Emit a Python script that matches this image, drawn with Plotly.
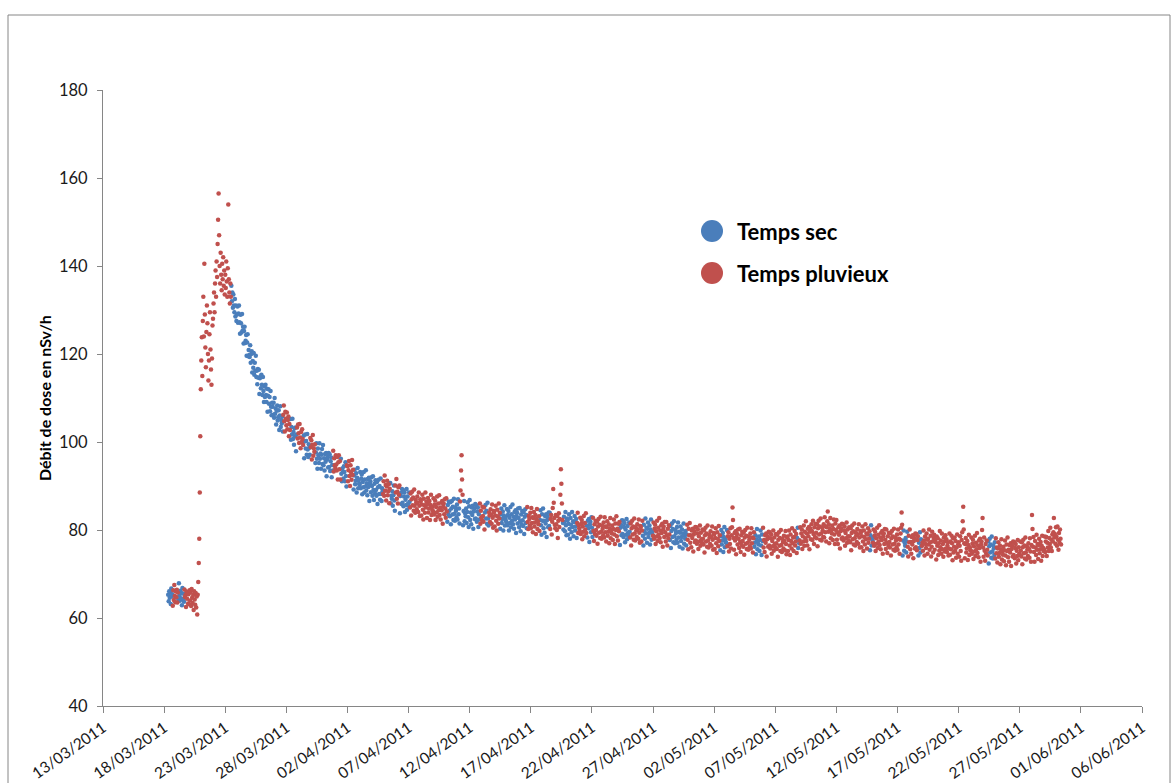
import pandas as pd
import plotly.graph_objects as go

# ---------------- data (hourly readings, nSv/h) ----------------
j18_03 = [65.3, 63.8, 66.1, 64.6, 65.9, 63.2, 66.7, 64.9, 65.4, 62.8, 66.3, 64.1, 67.5, 65.0, 63.6, 66.0]
j19_03 = [64.7, 66.4, 63.5, 65.8, 64.2, 67.9, 65.1, 63.9, 66.2, 64.5, 65.7, 62.9, 66.8, 64.3, 65.5, 63.7, 66.5, 64.8, 65.2, 62.5, 66.0, 64.4, 65.6, 63.3]
j20_03 = [65.4, 63.1, 66.3, 64.0, 65.9, 62.7, 66.6, 64.6, 63.4, 65.2, 61.8, 66.1, 64.2, 63.0, 65.7, 62.4, 64.9, 60.8, 65.3, 68.2, 72.5, 78.0, 88.5, 101.3]
j21_03 = [112.0, 118.5, 123.8, 115.0, 127.5, 133.0, 124.0, 140.5, 129.0, 121.5, 117.0, 125.0, 131.0, 127.0, 120.0, 114.0, 118.5, 124.5, 129.5, 121.0, 116.5, 113.0, 119.0, 126.5]
j22_03 = [128.0, 131.5, 134.0, 129.5, 136.0, 139.0, 133.0, 141.0, 137.5, 145.0, 150.5, 156.5, 147.0, 140.0, 136.0, 143.0, 138.0, 134.5, 140.5, 137.0, 142.0, 135.5, 139.0, 133.5]
j23_03 = [138.0, 135.0, 141.0, 136.5, 133.0, 139.5, 154.0, 137.0, 134.0, 131.5, 136.0, 133.0, 135.5, 132.0, 134.0, 130.5, 133.5, 131.0, 129.5, 132.5, 128.5, 131.0, 127.5, 129.0]
j24_03 = [130.8, 127.1, 129.2, 131.0, 127.2, 124.6, 128.9, 127.0, 124.9, 129.1, 125.3, 126.2, 122.4, 125.2, 126.2, 122.5, 123.0, 124.3, 119.6, 122.6, 124.5, 119.5, 120.9, 119.8]
j25_03 = [119.3, 122.0, 118.0, 120.0, 120.6, 115.8, 118.4, 116.9, 120.2, 115.3, 118.0, 116.2, 119.6, 114.8, 116.2, 113.1, 116.6, 114.6, 116.4, 110.9, 114.5, 114.9, 112.2, 115.3]
j26_03 = [113.0, 110.7, 114.8, 111.6, 109.1, 112.6, 110.2, 113.0, 110.7, 109.1, 112.1, 106.9, 110.5, 112.0, 108.7, 110.2, 107.0, 111.6, 108.0, 106.1, 108.9, 108.0, 106.2, 108.9]
j27_03 = [105.5, 110.0, 106.4, 107.6, 104.0, 107.1, 108.3, 104.9, 105.6, 107.2, 102.7, 106.0, 108.1, 103.4, 105.0, 104.2, 105.8, 102.4, 106.2, 108.3, 104.7, 102.4, 106.9, 105.3]
j28_03 = [103.8, 106.7, 102.9, 105.0, 105.8, 101.3, 104.1, 102.7, 105.2, 100.5, 103.4, 101.7, 105.3, 100.7, 102.3, 99.4, 103.1, 101.3, 103.3, 97.9, 101.7, 103.3, 100.8, 104.0]
j29_03 = [102.0, 99.8, 104.1, 101.0, 98.6, 102.3, 100.0, 102.9, 100.7, 99.3, 101.4, 96.3, 100.1, 101.7, 98.5, 100.2, 97.1, 101.8, 98.3, 96.6, 99.5, 98.7, 97.1, 100.9]
j30_03 = [98.8, 100.4, 96.0, 99.4, 101.6, 96.9, 98.6, 97.8, 99.5, 95.2, 97.6, 99.7, 96.2, 93.9, 98.5, 97.0, 95.2, 99.7, 96.2, 97.4, 93.9, 97.1, 98.4, 95.0]
j31_03 = [99.3, 94.7, 96.3, 93.5, 97.3, 95.5, 97.5, 92.2, 96.0, 96.6, 94.2, 97.5, 94.3, 97.2, 93.4, 95.6, 96.5, 92.0, 94.8, 93.5, 98.0, 93.3, 96.3, 94.7]
j01_04 = [94.1, 97.0, 94.9, 93.5, 96.6, 91.5, 95.4, 97.0, 93.8, 95.6, 91.5, 96.2, 92.8, 91.1, 94.0, 93.2, 91.7, 94.5, 93.2, 91.1, 95.4, 92.3, 89.9, 94.7]
j02_04 = [94.5, 91.1, 93.6, 95.7, 92.3, 90.0, 94.7, 93.1, 91.4, 95.9, 92.5, 93.7, 89.2, 92.4, 93.7, 90.4, 91.2, 92.9, 88.5, 91.9, 94.1, 89.5, 91.2, 90.5]
j03_04 = [90.3, 93.2, 89.5, 91.7, 92.6, 88.1, 90.9, 89.7, 93.2, 88.5, 91.5, 89.9, 93.6, 89.0, 90.6, 87.9, 91.6, 89.8, 91.9, 86.6, 90.5, 91.1, 88.6, 92.0]
j04_04 = [90.0, 87.8, 92.2, 89.1, 86.8, 90.5, 88.3, 91.3, 89.1, 87.8, 90.9, 85.9, 89.7, 91.4, 88.2, 90.0, 86.9, 91.7, 88.2, 86.6, 89.5, 88.8, 88.2, 91.1]
j05_04 = [87.8, 92.4, 88.9, 90.2, 86.7, 89.9, 91.2, 87.9, 88.8, 90.4, 86.1, 89.4, 90.7, 86.1, 87.8, 87.1, 88.8, 85.5, 87.9, 90.1, 86.7, 84.4, 90.1, 88.5]
j06_04 = [91.6, 87.1, 88.7, 86.0, 89.7, 88.0, 90.1, 83.8, 87.7, 88.4, 85.9, 89.3, 86.2, 89.1, 85.4, 87.6, 88.5, 84.1, 86.9, 85.7, 89.3, 84.6, 87.6, 86.0]
j07_04 = [85.5, 88.5, 86.4, 85.1, 88.3, 83.3, 87.0, 88.7, 85.6, 87.4, 84.4, 89.2, 85.5, 83.9, 86.9, 86.2, 84.7, 87.6, 86.2, 84.1, 88.5, 85.5, 83.2, 87.0]
j08_04 = [86.6, 83.3, 85.8, 88.0, 84.6, 82.4, 87.1, 85.6, 83.9, 88.5, 85.1, 86.4, 82.7, 85.9, 87.3, 84.0, 84.9, 86.6, 82.3, 85.7, 88.0, 83.4, 85.2, 84.5]
j09_04 = [84.2, 87.2, 83.5, 85.8, 86.7, 82.3, 85.2, 84.0, 87.6, 83.0, 86.0, 84.5, 87.9, 83.4, 85.1, 82.4, 86.2, 84.5, 86.6, 81.4, 85.3, 86.0, 83.6, 87.0]
j10_04 = [84.9, 82.8, 87.2, 84.2, 81.9, 85.7, 83.5, 86.5, 84.4, 83.1, 86.3, 81.3, 84.9, 86.6, 83.5, 85.3, 82.3, 87.1, 83.7, 82.1, 85.1, 84.4, 82.9, 85.8]
j11_04 = [82.4, 87.0, 83.6, 84.9, 81.5, 86.5, 89.0, 93.5, 97.0, 91.5, 88.0, 81.1, 84.3, 86.6, 82.0, 83.8, 83.1, 84.9, 81.6, 84.1, 86.3, 82.9, 80.7, 85.4]
j12_04 = [86.8, 82.3, 84.0, 81.3, 85.1, 83.4, 85.5, 80.3, 84.2, 84.9, 82.5, 85.9, 82.6, 85.6, 81.9, 84.2, 85.1, 80.7, 83.6, 82.4, 86.0, 81.4, 84.4, 82.9]
j13_04 = [82.3, 85.3, 83.2, 81.9, 85.1, 80.1, 84.0, 85.7, 82.6, 84.4, 81.4, 86.2, 82.6, 81.0, 84.0, 83.3, 81.8, 84.7, 83.5, 81.4, 85.8, 82.8, 80.5, 84.3]
j14_04 = [84.1, 80.8, 83.3, 85.5, 82.1, 79.9, 84.6, 83.1, 81.4, 86.0, 82.6, 83.9, 80.3, 83.5, 84.9, 81.6, 82.5, 84.2, 79.9, 83.3, 85.6, 81.0, 82.8, 82.1]
j15_04 = [81.8, 84.8, 81.1, 83.4, 84.3, 79.9, 82.8, 81.6, 85.2, 80.6, 83.6, 82.1, 85.8, 81.3, 83.0, 80.3, 84.1, 82.4, 84.5, 79.3, 83.2, 83.9, 81.5, 84.9]
j16_04 = [82.7, 80.6, 85.0, 82.0, 79.7, 83.5, 81.3, 84.3, 82.2, 80.9, 84.1, 79.1, 83.0, 84.7, 81.6, 83.4, 80.4, 85.2, 81.8, 80.2, 83.2, 82.5, 81.0, 83.9]
j17_04 = [80.4, 85.0, 81.6, 82.9, 79.5, 82.7, 84.1, 80.8, 81.7, 83.4, 79.1, 82.5, 84.8, 80.2, 82.0, 81.3, 83.1, 79.8, 82.3, 84.5, 81.1, 78.9, 83.6, 82.1]
j18_04 = [84.9, 80.4, 82.1, 79.4, 83.2, 81.5, 83.6, 78.4, 82.3, 83.0, 80.6, 84.0, 80.9, 83.9, 80.2, 82.5, 83.4, 79.0, 81.9, 85.0, 89.3, 86.2, 82.7, 81.2]
j19_04 = [80.4, 83.4, 81.3, 80.0, 83.2, 78.2, 82.1, 83.8, 80.7, 82.5, 88.0, 93.8, 90.5, 86.0, 82.3, 81.6, 80.1, 83.0, 81.8, 79.7, 84.1, 81.1, 78.8, 82.6]
j20_04 = [82.2, 78.9, 81.4, 83.6, 80.2, 78.0, 82.7, 81.2, 79.5, 84.1, 80.7, 82.0, 78.6, 81.8, 83.2, 79.9, 80.8, 82.5, 78.2, 81.6, 83.9, 79.3, 81.1, 80.4]
j21_04 = [79.8, 82.8, 79.1, 81.4, 82.3, 77.9, 80.8, 79.6, 83.2, 78.6, 81.6, 80.1, 83.8, 79.3, 81.0, 78.3, 82.1, 80.4, 82.5, 77.3, 81.2, 81.9, 79.5, 82.9]
j22_04 = [80.5, 78.4, 82.8, 79.8, 77.5, 81.3, 79.1, 82.1, 80.0, 78.7, 81.9, 76.9, 80.8, 82.5, 79.4, 81.2, 78.2, 83.0, 79.6, 78.0, 81.0, 80.3, 78.8, 81.7]
j23_04 = [78.3, 82.9, 79.5, 80.8, 77.4, 80.6, 82.0, 78.7, 79.6, 81.3, 77.0, 80.4, 82.7, 78.1, 79.9, 79.2, 81.0, 77.7, 80.2, 82.4, 79.0, 76.8, 81.5, 80.0]
j24_04 = [83.1, 78.6, 80.3, 77.6, 81.4, 79.7, 81.8, 76.6, 80.5, 81.2, 78.8, 82.2, 79.1, 82.1, 78.4, 80.7, 81.6, 77.2, 80.1, 78.9, 82.5, 77.9, 80.9, 79.4]
j25_04 = [78.7, 81.7, 79.6, 78.3, 81.5, 76.5, 80.4, 82.1, 79.0, 80.8, 77.8, 82.6, 79.2, 77.6, 80.6, 79.9, 78.4, 81.3, 80.1, 78.0, 82.4, 79.4, 77.1, 80.9]
j26_04 = [80.7, 77.4, 79.9, 82.1, 78.7, 76.5, 81.2, 79.7, 78.0, 82.6, 79.2, 80.5, 77.1, 80.3, 81.7, 78.4, 79.3, 81.0, 76.7, 80.1, 82.4, 77.8, 79.6, 78.9]
j27_04 = [78.7, 81.7, 78.0, 80.3, 81.2, 76.8, 79.7, 78.5, 82.1, 77.5, 80.5, 79.0, 82.7, 78.2, 79.9, 77.2, 81.0, 79.3, 81.4, 76.2, 80.1, 80.8, 78.4, 81.8]
j28_04 = [79.5, 77.4, 81.8, 78.8, 76.5, 80.3, 78.1, 81.1, 79.0, 77.7, 80.9, 75.9, 79.8, 81.5, 78.4, 80.2, 77.2, 82.0, 78.6, 77.0, 80.0, 79.3, 77.8, 80.7]
j29_04 = [77.1, 81.7, 78.3, 79.6, 76.2, 79.4, 80.8, 77.5, 78.4, 80.1, 75.8, 79.2, 81.5, 76.9, 78.7, 78.0, 79.8, 76.5, 79.0, 81.2, 77.8, 75.6, 80.3, 78.8]
j30_04 = [81.6, 77.1, 78.8, 76.1, 79.9, 78.2, 80.3, 75.1, 79.0, 79.7, 77.3, 80.7, 77.6, 80.6, 76.9, 79.2, 80.1, 75.7, 78.6, 77.4, 81.0, 76.4, 79.4, 77.9]
j01_05 = [77.1, 80.1, 78.0, 76.7, 79.9, 74.9, 78.8, 80.5, 77.4, 79.2, 76.2, 81.0, 77.6, 76.0, 79.0, 78.3, 76.8, 79.7, 78.5, 76.4, 80.8, 77.8, 75.5, 79.3]
j02_05 = [79.0, 75.7, 78.2, 80.4, 77.0, 74.8, 79.5, 78.0, 76.3, 80.9, 77.5, 78.8, 75.4, 78.6, 80.0, 76.7, 77.6, 79.3, 75.0, 78.4, 80.7, 76.1, 77.9, 77.2]
j03_05 = [77.0, 80.0, 76.3, 78.6, 79.5, 75.1, 78.0, 76.8, 80.4, 75.8, 78.8, 80.6, 85.1, 82.3, 78.2, 75.5, 79.3, 77.6, 79.7, 74.5, 78.4, 79.1, 76.7, 80.1]
j04_05 = [78.0, 75.9, 80.3, 77.3, 75.0, 78.8, 76.6, 79.6, 77.5, 76.2, 79.4, 74.4, 78.3, 80.0, 76.9, 78.7, 75.7, 80.5, 77.1, 75.5, 78.5, 77.8, 76.3, 79.2]
j05_05 = [75.8, 80.4, 77.0, 78.3, 74.9, 78.1, 79.5, 76.2, 77.1, 78.8, 74.5, 77.9, 80.2, 75.6, 77.4, 76.7, 78.5, 75.2, 77.7, 79.9, 76.5, 74.3, 79.0, 77.5]
j06_05 = [80.5, 76.0, 77.7, 75.0, 78.8, 77.1, 79.2, 74.0, 77.9, 78.6, 76.2, 79.6, 76.5, 79.5, 75.8, 78.1, 79.0, 74.6, 77.5, 76.3, 79.9, 75.3, 78.3, 76.8]
j07_05 = [76.1, 79.1, 77.0, 75.7, 78.9, 73.9, 77.8, 79.5, 76.4, 78.2, 75.2, 80.0, 76.6, 75.0, 78.0, 77.3, 75.8, 78.7, 77.5, 75.4, 79.8, 76.8, 74.5, 78.3]
j08_05 = [78.5, 75.2, 77.7, 79.9, 76.5, 74.3, 79.0, 77.5, 75.8, 80.4, 77.0, 78.3, 75.2, 78.4, 79.8, 76.5, 77.4, 79.1, 74.8, 78.2, 80.5, 75.9, 77.7, 77.0]
j09_05 = [77.6, 80.6, 76.9, 79.2, 80.1, 75.7, 78.6, 77.4, 81.0, 76.4, 79.6, 78.1, 82.0, 77.5, 79.2, 76.5, 80.3, 78.6, 80.7, 75.6, 79.6, 80.3, 77.9, 81.3]
j10_05 = [79.8, 77.7, 82.1, 79.1, 76.8, 80.6, 78.4, 81.4, 79.4, 78.1, 81.3, 76.3, 80.4, 82.1, 79.0, 80.8, 77.8, 82.6, 79.2, 77.6, 80.6, 79.9, 78.4, 81.3]
j11_05 = [78.3, 82.9, 79.5, 80.8, 77.4, 80.6, 82.0, 84.2, 79.6, 81.3, 77.0, 80.4, 82.7, 78.1, 79.9, 79.2, 81.0, 77.7, 80.2, 82.4, 79.0, 76.8, 81.5, 80.0]
j12_05 = [82.3, 77.8, 79.5, 76.8, 80.6, 78.9, 81.0, 75.8, 79.7, 80.4, 78.0, 81.4, 78.3, 81.3, 77.6, 79.9, 80.8, 76.4, 79.3, 78.1, 81.7, 77.1, 80.1, 78.6]
j13_05 = [77.6, 80.6, 78.5, 77.2, 80.4, 75.4, 79.3, 81.0, 77.9, 79.7, 76.7, 81.5, 78.1, 76.5, 79.5, 78.8, 77.3, 80.2, 79.0, 76.9, 81.3, 78.3, 76.0, 79.8]
j14_05 = [79.4, 76.1, 78.6, 80.8, 77.4, 75.2, 79.9, 78.4, 76.7, 81.3, 77.9, 79.2, 75.8, 79.0, 80.4, 77.1, 78.0, 79.7, 75.4, 78.8, 81.1, 76.5, 78.3, 77.6]
j15_05 = [77.1, 80.1, 76.4, 78.7, 79.6, 75.2, 78.1, 76.9, 80.5, 75.9, 78.9, 77.4, 81.1, 76.6, 78.3, 75.6, 79.4, 77.7, 79.8, 74.6, 78.5, 79.2, 76.8, 80.2]
j16_05 = [77.8, 75.7, 80.1, 77.1, 74.8, 78.6, 76.4, 79.4, 77.3, 76.0, 79.2, 74.2, 78.1, 79.8, 76.7, 78.5, 75.5, 80.3, 76.9, 75.3, 78.3, 77.6, 76.1, 79.0]
j17_05 = [75.5, 80.1, 76.7, 78.0, 74.6, 77.8, 79.2, 80.5, 84.0, 81.2, 74.2, 77.6, 79.9, 75.3, 77.1, 76.4, 78.2, 74.9, 77.4, 79.6, 76.2, 74.0, 78.7, 77.2]
j18_05 = [80.1, 75.6, 77.3, 74.6, 78.4, 76.7, 78.8, 73.6, 77.5, 78.2, 75.8, 79.2, 76.1, 79.1, 75.4, 77.7, 78.6, 74.2, 77.1, 75.9, 79.5, 74.9, 77.9, 76.4]
j19_05 = [76.4, 77.1, 75.3, 79.9, 77.6, 74.2, 78.5, 76.8, 75.9, 79.2, 77.8, 74.6, 78.0, 76.7, 80.1, 75.5, 77.2, 78.7, 74.0, 76.2, 79.6, 77.4, 74.9, 78.2]
j20_05 = [78.9, 75.5, 77.9, 77.2, 73.3, 78.5, 76.4, 78.1, 74.3, 77.0, 75.3, 79.8, 76.1, 77.6, 74.6, 79.2, 75.6, 76.8, 73.9, 78.3, 77.4, 75.1, 78.8, 75.8]
j21_05 = [77.9, 75.0, 76.5, 77.2, 74.2, 75.8, 79.2, 74.4, 77.4, 75.6, 78.7, 77.0, 73.1, 78.1, 74.9, 76.2, 78.3, 75.3, 77.5, 73.7, 76.0, 79.0, 74.6, 76.7]
j22_05 = [77.2, 73.9, 76.4, 78.6, 75.2, 73.0, 77.7, 79.5, 82.0, 85.3, 80.1, 77.0, 73.6, 76.8, 78.2, 74.9, 75.8, 77.5, 73.2, 76.6, 78.9, 74.3, 76.1, 75.4]
j23_05 = [75.3, 78.3, 74.6, 76.9, 77.8, 73.4, 76.3, 75.1, 78.7, 74.1, 77.1, 75.6, 79.3, 74.8, 76.5, 73.8, 77.6, 75.9, 78.0, 72.8, 76.7, 77.4, 80.0, 82.7]
j24_05 = [76.0, 73.9, 78.3, 75.3, 73.0, 76.8, 74.6, 77.6, 75.5, 74.2, 77.4, 72.4, 76.3, 78.0, 74.9, 76.7, 73.7, 78.5, 75.1, 73.5, 76.5, 75.8, 74.3, 77.2]
j25_05 = [73.5, 78.1, 74.7, 76.0, 72.6, 75.8, 77.2, 73.9, 74.8, 76.5, 72.2, 75.6, 77.9, 73.3, 75.1, 74.4, 76.2, 72.9, 75.4, 77.6, 74.2, 72.0, 76.7, 75.2]
j26_05 = [78.3, 73.8, 75.5, 72.8, 76.6, 74.9, 77.0, 71.8, 75.7, 76.4, 74.0, 77.4, 74.3, 77.3, 73.6, 75.9, 76.8, 72.4, 75.3, 74.1, 77.7, 73.1, 76.1, 74.6]
j27_05 = [74.4, 77.4, 75.3, 74.0, 77.2, 72.2, 76.1, 77.8, 74.7, 76.5, 73.5, 78.3, 74.9, 73.3, 76.3, 75.6, 74.1, 77.0, 75.8, 73.7, 78.1, 75.1, 72.8, 76.6]
j28_05 = [83.4, 80.2, 76.2, 78.4, 75.0, 72.8, 77.5, 76.0, 74.3, 78.9, 75.5, 76.8, 73.4, 76.6, 78.0, 74.7, 75.6, 77.3, 73.0, 76.4, 78.7, 74.1, 75.9, 75.2]
j29_05 = [75.5, 78.5, 75.0, 77.4, 78.4, 74.1, 77.1, 76.0, 79.8, 75.2, 78.2, 76.8, 80.5, 76.0, 77.8, 75.2, 79.0, 77.4, 79.5, 82.7, 78.3, 79.1, 76.9, 80.6]
j30_05 = [78.5, 76.4, 80.8, 77.8, 75.5, 79.3, 77.1, 80.1, 78.0, 76.7]

jours = [j18_03, j19_03, j20_03, j21_03, j22_03, j23_03, j24_03, j25_03, j26_03, j27_03,
         j28_03, j29_03, j30_03, j31_03, j01_04, j02_04, j03_04, j04_04, j05_04, j06_04,
         j07_04, j08_04, j09_04, j10_04, j11_04, j12_04, j13_04, j14_04, j15_04, j16_04,
         j17_04, j18_04, j19_04, j20_04, j21_04, j22_04, j23_04, j24_04, j25_04, j26_04,
         j27_04, j28_04, j29_04, j30_04, j01_05, j02_05, j03_05, j04_05, j05_05, j06_05,
         j07_05, j08_05, j09_05, j10_05, j11_05, j12_05, j13_05, j14_05, j15_05, j16_05,
         j17_05, j18_05, j19_05, j20_05, j21_05, j22_05, j23_05, j24_05, j25_05, j26_05,
         j27_05, j28_05, j29_05, j30_05]
premier_jour = "2011-03-18"

# rainy periods (start inclusive, end exclusive)
periodes_pluie = [
    ("2011-03-18 17:00", "2011-03-19 04:00"), ("2011-03-19 16:00", "2011-03-23 12:00"),
    ("2011-03-27 18:00", "2011-03-28 08:00"), ("2011-03-28 21:00", "2011-03-29 10:00"),
    ("2011-03-29 23:00", "2011-03-30 09:00"), ("2011-03-31 20:00", "2011-04-01 11:00"),
    ("2011-04-01 23:00", "2011-04-02 12:00"), ("2011-04-04 22:00", "2011-04-05 12:00"),
    ("2011-04-05 22:00", "2011-04-06 07:00"), ("2011-04-07 03:00", "2011-04-10 04:00"),
    ("2011-04-11 05:00", "2011-04-11 11:00"), ("2011-04-12 20:00", "2011-04-13 06:00"),
    ("2011-04-13 14:00", "2011-04-14 12:00"), ("2011-04-16 17:00", "2011-04-17 18:00"),
    ("2011-04-18 14:00", "2011-04-19 15:00"), ("2011-04-20 19:00", "2011-04-21 14:00"),
    ("2011-04-22 02:00", "2011-04-24 07:00"), ("2011-04-25 03:00", "2011-04-26 04:00"),
    ("2011-04-27 00:00", "2011-04-28 09:00"), ("2011-04-29 19:00", "2011-05-02 12:00"),
    ("2011-05-03 02:00", "2011-05-05 07:00"), ("2011-05-06 00:00", "2011-05-08 19:00"),
    ("2011-05-09 00:00", "2011-05-14 18:00"), ("2011-05-15 00:00", "2011-05-17 10:00"),
    ("2011-05-17 20:00", "2011-05-18 17:00"), ("2011-05-19 00:00", "2011-05-24 10:00"),
    ("2011-05-25 00:00", "2011-05-30 10:00"),
]

noms_series = ["Temps sec", "Temps pluvieux"]
titre_y = "Débit de dose en nSv/h"

# ---------------- build series ----------------
pluie = [(pd.Timestamp(a), pd.Timestamp(b)) for a, b in periodes_pluie]
sec_t, sec_v, pl_t, pl_v = [], [], [], []
for k, vals in enumerate(jours):
    jour = pd.Timestamp(premier_jour) + pd.Timedelta(days=k)
    h0 = 24 - len(vals) if k == 0 else 0
    for h, v in enumerate(vals):
        t = jour + pd.Timedelta(hours=h0 + h)
        if any(a <= t < b for a, b in pluie):
            pl_t.append(t); pl_v.append(v)
        else:
            sec_t.append(t); sec_v.append(v)

BLUE = "#4A7EBB"
RED = "#C0504D"
GRAY = "#868686"

fig = go.Figure()
fig.add_trace(go.Scatter(x=sec_t, y=sec_v, mode="markers", name=noms_series[0],
                         marker=dict(color=BLUE, size=4.5, line=dict(width=0))))
fig.add_trace(go.Scatter(x=pl_t, y=pl_v, mode="markers", name=noms_series[1],
                         marker=dict(color=RED, size=4.5, line=dict(width=0))))

L, R, T, B = 103, 32, 90, 77
W, H = 1174, 783
pw, ph = W - L - R, H - T - B

def px(x):
    return (x - L) / pw

def py(y):
    return (H - B - y) / ph

fig.update_layout(
    width=W, height=H,
    margin=dict(l=L, r=R, t=T, b=B, autoexpand=False),
    paper_bgcolor="white", plot_bgcolor="white",
    showlegend=False,
    font=dict(family="Lato, 'Open Sans', sans-serif", size=16, color="#1a1a1a"),
    xaxis=dict(type="date", range=["2011-03-13", "2011-06-06"],
               tick0="2011-03-13", dtick=5 * 86400000, tickformat="%d/%m/%Y",
               tickangle=-35, ticks="outside", ticklen=6, tickcolor=GRAY,
               showline=True, linecolor=GRAY, linewidth=1, automargin=False,
               showgrid=False, zeroline=False, tickfont=dict(size=15.5)),
    yaxis=dict(range=[40, 180], dtick=20, ticks="outside", ticklen=5, tickcolor=GRAY,
               showline=True, linecolor=GRAY, linewidth=1, automargin=False,
               showgrid=False, zeroline=False, tickfont=dict(size=16.5),
               ticklabelstandoff=6),
)

shapes = [
    dict(type="rect", xref="paper", yref="paper",
         x0=px(8), x1=px(1170), y0=py(800), y1=py(15),
         line=dict(color=GRAY, width=1), fillcolor="rgba(0,0,0,0)", layer="below"),
]
for cy, col in [(231, BLUE), (273, RED)]:
    shapes.append(dict(type="circle", xref="paper", yref="paper",
                       xsizemode="pixel", ysizemode="pixel",
                       xanchor=px(712), yanchor=py(cy),
                       x0=-11, x1=11, y0=-11, y1=11,
                       fillcolor=col, line=dict(width=0)))
fig.update_layout(shapes=shapes)

annots = [
    dict(text="<b>%s</b>" % titre_y, xref="paper", yref="paper",
         x=px(44), y=py(398), textangle=-90, showarrow=False,
         xanchor="center", yanchor="middle",
         font=dict(size=16, color="#000000", family="Lato")),
]
for cy, name in [(231, noms_series[0]), (273, noms_series[1])]:
    annots.append(dict(text="<b>%s</b>" % name, xref="paper", yref="paper",
                       x=px(735), y=py(cy), showarrow=False,
                       xanchor="left", yanchor="middle",
                       font=dict(size=22, color="#000000", family="Lato")))
fig.update_layout(annotations=annots)

fig.write_html("out.html")
